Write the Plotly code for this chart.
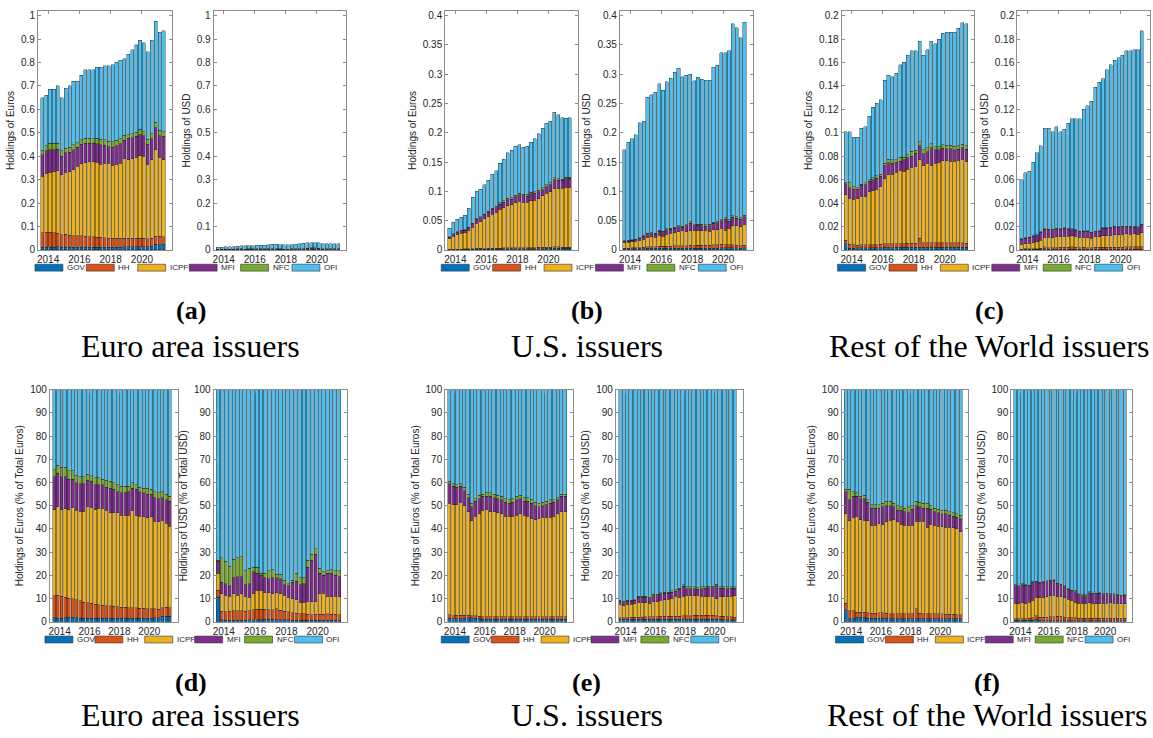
import numpy as np
import plotly.graph_objects as go

W, H = 1153, 738

quarters = ["2013Q3", "2013Q4",
            "2014Q1", "2014Q2", "2014Q3", "2014Q4",
            "2015Q1", "2015Q2", "2015Q3", "2015Q4",
            "2016Q1", "2016Q2", "2016Q3", "2016Q4",
            "2017Q1", "2017Q2", "2017Q3", "2017Q4",
            "2018Q1", "2018Q2", "2018Q3", "2018Q4",
            "2019Q1", "2019Q2", "2019Q3", "2019Q4",
            "2020Q1", "2020Q2", "2020Q3", "2020Q4",
            "2021Q1", "2021Q2"]
tick_years = [2014, 2016, 2018, 2020]
sectors = ["GOV", "HH", "ICPF", "MFI", "NFC", "OFI"]
colors = ["#0072BD", "#D95319", "#EDB120", "#7E2F8E", "#77AC30", "#4DBEEE"]

# ---------- Euro area issuers, Euro holdings ----------
ea_eur_total = [0.65, 0.66, 0.685, 0.685, 0.70, 0.65, 0.69, 0.70, 0.72, 0.72, 0.745, 0.77, 0.77, 0.77, 0.78, 0.78,
                0.785, 0.785, 0.79, 0.80, 0.81, 0.815, 0.835, 0.855, 0.875, 0.895, 0.885, 0.845, 0.895, 0.975, 0.93, 0.935]
ea_eur_gov = [1.8, 1.6, 1.6, 1.7, 1.9, 1.9, 1.7, 1.6, 1.6, 1.6, 1.5, 1.5, 1.5, 1.5, 1.5, 1.5,
              1.5, 1.5, 1.5, 1.5, 1.5, 1.6, 1.6, 1.6, 1.6, 1.6, 1.6, 1.7, 1.7, 2.4, 2.5, 2.5]
ea_eur_hh = [11.2, 11.4, 11.0, 10.6, 10.1, 10.0, 9.6, 9.0, 8.5, 8.3, 8.1, 7.6, 7.4, 7.2, 7.0, 6.9,
             6.7, 6.5, 6.3, 6.2, 6.1, 6.1, 6.0, 5.9, 5.8, 5.6, 5.7, 5.7, 5.5, 6.0, 6.3, 6.1]
ea_eur_icpf = [48.3, 49.6, 48.3, 48.6, 48.3, 49.3, 48.0, 47.6, 47.6, 49.6, 49.3, 48.3, 48.9, 49.0, 48.0, 47.0,
               47.0, 47.0, 45.8, 45.8, 45.8, 47.8, 46.0, 45.5, 45.3, 44.8, 45.2, 43.3, 43.0, 43.8, 42.5, 41.2]
ea_eur_mfi = [62.5, 64.0, 62.5, 62.5, 61.5, 61.5, 60.0, 59.5, 59.5, 61.0, 60.5, 59.0, 59.0, 59.0, 58.0, 57.5,
              57.0, 56.0, 55.5, 55.5, 56.0, 57.5, 57.0, 56.0, 55.5, 55.0, 55.0, 53.5, 53.0, 53.5, 52.5, 52.0]
ea_eur_nfc = [65.5, 67.5, 66.5, 66.5, 65.0, 65.0, 63.0, 62.5, 62.5, 63.5, 63.0, 62.0, 62.0, 61.5, 61.0, 60.5,
              60.0, 59.0, 58.5, 58.5, 58.5, 60.0, 59.0, 58.0, 57.5, 57.5, 57.0, 56.0, 55.5, 56.0, 55.0, 54.0]

# ---------- Euro area issuers, USD holdings ----------
ea_usd_total = [0.012, 0.012, 0.013, 0.013, 0.014, 0.015, 0.017, 0.018, 0.019, 0.019, 0.020, 0.020, 0.021, 0.022, 0.024, 0.025,
                0.022, 0.022, 0.022, 0.023, 0.024, 0.027, 0.029, 0.030, 0.030, 0.030, 0.030, 0.027, 0.026, 0.027, 0.027, 0.027]
ea_usd_gov = [10.5, 0.8, 0.7, 0.7, 0.7, 0.7, 0.7, 0.7, 0.8, 0.8, 0.9, 0.9, 1.0, 1.0, 1.0, 0.9,
              0.8, 0.8, 0.8, 0.7, 0.6, 0.6, 0.6, 0.6, 0.6, 0.7, 0.7, 0.7, 0.7, 0.7, 0.7, 0.7]
ea_usd_hh = [13.5, 4.5, 4.3, 4.6, 4.8, 4.8, 4.7, 4.6, 4.8, 5.3, 5.5, 5.5, 5.4, 5.3, 5.3, 5.7,
             5.0, 4.6, 4.3, 4.0, 3.7, 3.5, 3.5, 3.2, 3.0, 3.2, 3.3, 3.3, 3.4, 3.3, 3.2, 3.0]
ea_usd_icpf = [21.0, 12.0, 11.5, 11.0, 12.0, 11.5, 12.0, 11.0, 10.5, 12.0, 13.6, 13.6, 12.5, 12.5, 12.0, 12.6,
               12.0, 11.5, 10.5, 10.0, 9.5, 8.5, 8.5, 8.7, 8.7, 8.6, 12.0, 12.3, 11.0, 10.7, 11.0, 10.7]
ea_usd_mfi = [26.0, 17.0, 16.5, 15.5, 19.0, 19.5, 19.5, 16.0, 16.5, 21.5, 21.0, 20.0, 19.0, 18.5, 19.0, 19.0,
              18.5, 16.0, 15.5, 17.0, 17.5, 16.0, 16.5, 23.5, 26.5, 29.0, 21.0, 20.0, 21.0, 21.0, 20.0, 19.5]
ea_usd_nfc = [26.5, 27.5, 26.0, 24.0, 27.0, 27.5, 28.0, 22.0, 23.0, 23.5, 23.5, 21.0, 21.0, 22.0, 22.5, 20.5,
              20.5, 18.0, 16.5, 18.0, 21.0, 19.0, 19.0, 26.5, 29.0, 31.5, 23.0, 21.5, 22.0, 22.5, 22.0, 22.0]

# ---------- U.S. issuers, Euro holdings ----------
us_eur_total = [0.037, 0.047, 0.052, 0.056, 0.059, 0.071, 0.090, 0.100, 0.104, 0.111, 0.119, 0.129, 0.135, 0.148, 0.155, 0.166,
                0.170, 0.177, 0.180, 0.175, 0.177, 0.184, 0.190, 0.198, 0.208, 0.216, 0.220, 0.235, 0.231, 0.226, 0.225, 0.226]
us_eur_gov = [1.5, 1.3, 1.4, 1.4, 1.6, 1.7, 1.7, 1.6, 1.5, 1.2, 1.2, 1.2, 1.2, 1.2, 1.2, 1.2,
              1.2, 1.2, 1.2, 1.2, 1.2, 1.2, 1.2, 1.2, 1.2, 1.2, 1.2, 1.2, 1.2, 1.2, 1.2, 1.2]
us_eur_hh = [3.0, 2.7, 2.8, 2.8, 2.8, 2.8, 2.7, 2.6, 2.5, 2.2, 2.2, 2.2, 2.2, 2.2, 2.2, 2.2,
             2.2, 2.2, 2.2, 2.2, 2.2, 2.2, 2.2, 2.2, 2.2, 2.2, 2.2, 2.2, 2.2, 2.2, 2.2, 2.2]
us_eur_icpf = [51.0, 50.5, 50.5, 51.5, 50.0, 47.5, 43.5, 45.5, 46.5, 48.0, 48.5, 47.5, 47.5, 47.0, 46.5, 45.5,
               45.5, 45.5, 46.0, 46.5, 46.0, 45.5, 44.5, 44.0, 44.5, 45.0, 45.0, 45.0, 45.5, 46.5, 47.5, 47.5]
us_eur_mfi = [59.5, 58.5, 58.0, 58.5, 56.5, 53.5, 49.5, 52.0, 53.0, 54.0, 54.0, 54.0, 53.5, 53.0, 52.5, 51.5,
              51.0, 51.5, 52.5, 53.0, 52.0, 52.0, 51.0, 50.0, 49.5, 50.0, 50.5, 51.0, 51.5, 52.5, 54.0, 54.0]
us_eur_nfc = [60.5, 59.5, 59.0, 59.5, 58.0, 55.0, 51.0, 53.0, 54.5, 55.0, 55.5, 55.5, 55.0, 54.5, 54.0, 53.0,
              52.5, 53.0, 54.0, 54.5, 53.5, 53.5, 52.5, 51.5, 51.0, 51.5, 52.0, 52.5, 52.5, 53.5, 55.0, 55.0]

# ---------- U.S. issuers, USD holdings ----------
us_usd_total = [0.171, 0.184, 0.190, 0.197, 0.217, 0.220, 0.261, 0.265, 0.269, 0.284, 0.273, 0.287, 0.293, 0.303, 0.310, 0.296,
                0.298, 0.300, 0.289, 0.295, 0.291, 0.290, 0.290, 0.312, 0.315, 0.337, 0.337, 0.340, 0.386, 0.379, 0.362, 0.389]
us_usd_gov = [1.2, 1.2, 1.2, 1.2, 1.2, 1.1, 1.1, 1.1, 1.0, 1.0, 1.0, 1.0, 1.0, 1.0, 1.0, 1.0,
              1.0, 1.0, 1.0, 1.0, 1.0, 1.0, 1.0, 1.0, 1.0, 1.0, 1.0, 1.0, 0.9, 0.9, 0.9, 0.9]
us_usd_hh = [1.8, 1.8, 1.8, 1.9, 1.9, 2.0, 2.0, 2.1, 2.1, 2.2, 2.2, 2.3, 2.3, 2.3, 2.4, 2.4,
             2.5, 2.6, 2.6, 2.7, 2.8, 2.8, 2.9, 2.9, 2.9, 2.9, 2.7, 2.5, 2.4, 2.2, 2.1, 2.0]
us_usd_icpf = [7.5, 7.0, 7.5, 7.6, 7.7, 8.5, 8.3, 8.5, 8.0, 8.7, 8.6, 9.2, 9.6, 9.8, 10.0, 11.0,
               10.5, 11.0, 11.5, 11.5, 11.2, 11.5, 11.0, 11.0, 11.0, 11.0, 10.0, 10.8, 10.8, 10.8, 11.0, 11.2]
us_usd_mfi = [8.8, 8.3, 8.8, 8.8, 9.2, 10.5, 10.5, 10.5, 10.0, 11.3, 11.3, 12.0, 12.2, 12.2, 12.8, 13.2,
              14.0, 15.3, 14.3, 14.3, 14.3, 14.0, 14.3, 14.5, 14.7, 14.7, 15.5, 14.5, 14.5, 14.3, 14.5, 14.5]
us_usd_nfc = [9.3, 8.8, 9.3, 9.3, 9.6, 11.0, 11.0, 11.0, 10.5, 11.8, 11.8, 12.5, 12.7, 12.7, 13.3, 13.8,
              14.5, 16.0, 15.0, 15.0, 15.0, 14.7, 15.0, 15.2, 15.4, 15.4, 16.2, 15.2, 15.2, 15.0, 15.2, 15.2]

# ---------- Rest of the World issuers, Euro holdings ----------
row_eur_total = [0.101, 0.101, 0.096, 0.096, 0.104, 0.105, 0.114, 0.122, 0.125, 0.128, 0.145, 0.149, 0.148, 0.151, 0.158, 0.160,
                 0.166, 0.170, 0.170, 0.178, 0.166, 0.171, 0.178, 0.176, 0.180, 0.185, 0.186, 0.186, 0.186, 0.189, 0.194, 0.193]
row_eur_gov = [5.2, 1.4, 1.4, 1.9, 1.9, 1.9, 1.6, 1.5, 1.5, 1.5, 1.5, 1.5, 1.4, 1.4, 1.4, 1.4,
               1.3, 1.3, 1.3, 1.4, 1.4, 1.4, 1.4, 1.4, 1.3, 1.3, 1.3, 1.3, 1.3, 1.3, 1.3, 1.3]
row_eur_hh = [8.0, 4.7, 4.7, 4.2, 4.2, 4.2, 3.8, 3.7, 3.7, 3.8, 3.8, 3.7, 3.5, 3.5, 3.4, 3.4,
              3.4, 3.4, 3.4, 5.7, 3.6, 3.5, 3.5, 3.5, 3.4, 3.4, 3.4, 3.3, 3.3, 3.2, 3.1, 3.0]
row_eur_icpf = [46.5, 43.5, 45.0, 45.5, 44.0, 43.8, 43.5, 41.5, 41.5, 42.3, 42.0, 43.0, 43.8, 44.0, 43.0, 42.0,
                41.5, 41.5, 41.7, 43.3, 43.3, 43.3, 40.7, 42.0, 41.7, 41.2, 41.0, 40.8, 40.8, 40.5, 40.0, 39.0]
row_eur_mfi = [56.0, 52.5, 54.0, 54.0, 53.0, 53.0, 51.5, 49.0, 49.0, 49.0, 49.5, 50.0, 50.0, 49.5, 48.0, 48.0,
               47.5, 47.0, 48.5, 50.0, 49.5, 49.0, 49.0, 48.5, 47.5, 47.0, 46.5, 46.5, 46.0, 45.5, 45.0, 44.5]
row_eur_nfc = [57.0, 57.0, 56.0, 55.5, 54.0, 54.5, 52.5, 50.5, 50.5, 50.5, 51.0, 52.0, 52.0, 51.0, 50.0, 49.5,
               49.0, 49.5, 50.0, 52.0, 51.5, 51.0, 51.0, 50.0, 49.0, 48.5, 48.0, 48.0, 47.5, 47.0, 46.5, 46.0]

# ---------- Rest of the World issuers, USD holdings ----------
row_usd_total = [0.060, 0.066, 0.067, 0.075, 0.083, 0.089, 0.104, 0.104, 0.101, 0.105, 0.101, 0.103, 0.108, 0.112, 0.112, 0.112,
                 0.120, 0.123, 0.127, 0.139, 0.143, 0.146, 0.154, 0.158, 0.162, 0.164, 0.166, 0.170, 0.170, 0.171, 0.171, 0.187]
row_usd_gov = [0.6, 0.6, 0.6, 0.6, 0.6, 0.6, 1.2, 0.6, 0.4, 0.4, 0.4, 0.4, 0.4, 0.4, 0.4, 0.4,
               0.4, 0.4, 0.4, 0.4, 0.4, 0.4, 0.4, 0.4, 0.4, 0.4, 0.4, 0.4, 0.4, 0.4, 0.4, 0.4]
row_usd_hh = [1.3, 1.3, 1.4, 1.4, 1.5, 1.7, 2.6, 1.9, 1.9, 2.0, 2.1, 2.2, 2.3, 2.3, 1.9, 1.8,
              1.8, 1.7, 1.6, 1.6, 1.6, 1.5, 1.5, 1.5, 1.5, 1.5, 1.5, 1.5, 1.5, 1.5, 1.5, 1.5]
row_usd_icpf = [8.0, 7.8, 8.3, 8.0, 8.5, 9.3, 10.5, 10.3, 10.5, 10.8, 11.2, 11.5, 11.0, 10.8, 10.3, 9.8,
                9.2, 8.5, 8.0, 8.0, 8.0, 8.2, 8.0, 7.8, 8.0, 8.0, 8.0, 8.2, 8.0, 8.0, 7.8, 7.8]
row_usd_mfi = [15.5, 15.0, 16.0, 15.8, 15.5, 17.0, 17.2, 16.7, 17.0, 17.3, 17.6, 17.8, 16.3, 16.0, 15.2, 14.0,
               13.3, 13.0, 11.7, 11.3, 11.3, 12.6, 12.1, 12.1, 12.3, 11.7, 12.0, 11.7, 11.7, 11.4, 11.2, 11.4]
row_usd_nfc = [16.0, 15.5, 16.3, 16.0, 15.8, 17.3, 17.5, 17.0, 17.3, 17.7, 18.0, 18.2, 16.7, 16.2, 15.5, 14.3,
               13.7, 13.3, 12.0, 11.6, 11.6, 12.9, 12.4, 12.4, 12.6, 12.0, 12.3, 12.0, 12.0, 11.7, 11.5, 11.7]

captions = [("(a)", "Euro area issuers"), ("(b)", "U.S. issuers"), ("(c)", "Rest of the World issuers"),
            ("(d)", "Euro area issuers"), ("(e)", "U.S. issuers"), ("(f)", "Rest of the World issuers")]


def quarter_pos(q):
    return int(q[:4]) + (int(q[5]) - 1) / 4.0 + 0.125


xpos = np.array([quarter_pos(q) for q in quarters])
step = 0.25
xrange = [xpos[0] - 1.1 * step, xpos[-1] + 2.1 * step]


def shares(gov, hh, icpf, mfi, nfc):
    lv = np.vstack([np.zeros(len(gov)), gov, hh, icpf, mfi, nfc, np.full(len(gov), 100.0)])
    lv = np.maximum.accumulate(lv, axis=0)
    return np.diff(lv, axis=0)


combos = {
    "ea_eur": (ea_eur_total, shares(ea_eur_gov, ea_eur_hh, ea_eur_icpf, ea_eur_mfi, ea_eur_nfc)),
    "ea_usd": (ea_usd_total, shares(ea_usd_gov, ea_usd_hh, ea_usd_icpf, ea_usd_mfi, ea_usd_nfc)),
    "us_eur": (us_eur_total, shares(us_eur_gov, us_eur_hh, us_eur_icpf, us_eur_mfi, us_eur_nfc)),
    "us_usd": (us_usd_total, shares(us_usd_gov, us_usd_hh, us_usd_icpf, us_usd_mfi, us_usd_nfc)),
    "row_eur": (row_eur_total, shares(row_eur_gov, row_eur_hh, row_eur_icpf, row_eur_mfi, row_eur_nfc)),
    "row_usd": (row_usd_total, shares(row_usd_gov, row_usd_hh, row_usd_icpf, row_usd_mfi, row_usd_nfc)),
}

TOP = (5, 248)
BOT = (390, 626)
subplots = [
    dict(combo="ea_eur", kind="lvl", x=(36, 170), y=TOP, ymax=1.0, dtick=0.1, title="Holdings of Euros"),
    dict(combo="ea_usd", kind="lvl", x=(212, 345), y=TOP, ymax=1.0, dtick=0.1, title="Holdings of USD"),
    dict(combo="us_eur", kind="lvl", x=(444, 577), y=TOP, ymax=0.4, dtick=0.05, title="Holdings of Euros"),
    dict(combo="us_usd", kind="lvl", x=(619, 752), y=TOP, ymax=0.4, dtick=0.05, title="Holdings of USD"),
    dict(combo="row_eur", kind="lvl", x=(841, 974), y=TOP, ymax=0.2, dtick=0.02, title="Holdings of Euros"),
    dict(combo="row_usd", kind="lvl", x=(1017, 1150), y=TOP, ymax=0.2, dtick=0.02, title="Holdings of USD"),
    dict(combo="ea_eur", kind="pct", x=(48, 176), y=BOT, ymax=100, dtick=10, title="Holdings of Euros (% of Total Euros)"),
    dict(combo="ea_usd", kind="pct", x=(212, 346), y=BOT, ymax=100, dtick=10, title="Holdings of USD (% of Total USD)"),
    dict(combo="us_eur", kind="pct", x=(444, 572), y=BOT, ymax=100, dtick=10, title="Holdings of Euros (% of Total Euros)"),
    dict(combo="us_usd", kind="pct", x=(615, 742), y=BOT, ymax=100, dtick=10, title="Holdings of USD (% of Total USD)"),
    dict(combo="row_eur", kind="pct", x=(841, 968), y=BOT, ymax=100, dtick=10, title="Holdings of Euros (% of Total Euros)"),
    dict(combo="row_usd", kind="pct", x=(1011, 1132), y=BOT, ymax=100, dtick=10, title="Holdings of USD (% of Total USD)"),
]

AXC = "#8c8c8c"
TXC = "#262626"
FONT = "Liberation Sans, Arial, sans-serif"

fig = go.Figure()
layout = {}
for k, sp in enumerate(subplots):
    n = k + 1
    sfx = "" if n == 1 else str(n)
    total, sh = combos[sp["combo"]]
    total = np.asarray(total)
    for s, (name, col) in enumerate(zip(sectors, colors)):
        vals = sh[s] if sp["kind"] == "pct" else sh[s] * total / 100.0
        fig.add_trace(go.Bar(
            x=xpos, y=vals, name=name, showlegend=False,
            marker=dict(color=col, line=dict(color="rgba(30,30,30,0.85)", width=0.5)),
            xaxis="x" + sfx, yaxis="y" + sfx))
    ymax = sp["ymax"]
    yr = [0, ymax * 1.02] if sp["kind"] == "lvl" else [0, 100]
    layout["xaxis" + sfx] = dict(
        domain=[sp["x"][0] / W, sp["x"][1] / W], anchor="y" + sfx, range=xrange,
        tickvals=tick_years, ticktext=[str(t) for t in tick_years],
        ticks="inside", ticklen=3, tickcolor=AXC, mirror="ticks", showline=True, linecolor=AXC, linewidth=1,
        showgrid=False, zeroline=False, tickfont=dict(family=FONT, size=10, color=TXC))
    layout["yaxis" + sfx] = dict(
        domain=[1 - sp["y"][1] / H, 1 - sp["y"][0] / H], anchor="x" + sfx, range=yr,
        tick0=0, dtick=sp["dtick"],
        ticks="inside", ticklen=3, tickcolor=AXC, mirror="ticks", showline=True, linecolor=AXC, linewidth=1,
        showgrid=False, zeroline=False, tickfont=dict(family=FONT, size=10, color=TXC),
        title=dict(text=sp["title"], font=dict(family=FONT, size=10, color=TXC), standoff=4))

shapes = []
annotations = []
legend_rows = [
    (266, [33, 440, 837], 51.5),
    (644, [43, 440, 835], 50.0),
]
for yc, starts, stepx in legend_rows:
    for x0 in starts:
        for i, (name, col) in enumerate(zip(sectors, colors)):
            sx = x0 + i * stepx
            shapes.append(dict(type="rect", xref="paper", yref="paper",
                               x0=sx / W, x1=(sx + 28) / W, y0=1 - (yc + 3.5) / H, y1=1 - (yc - 3.5) / H,
                               fillcolor=col, line=dict(color="#333333", width=0.6)))
            annotations.append(dict(x=(sx + 30) / W, y=1 - yc / H, xref="paper", yref="paper",
                                    text=name, showarrow=False, xanchor="left", yanchor="middle",
                                    font=dict(family=FONT, size=8, color=TXC)))

cap_x = [189, 586, 989, 189, 586, 987]
cap_y = [(310, 346), (310, 346), (310, 346), (688, 721), (688, 721), (688, 721)]
SERIF = "Liberation Serif, Times New Roman, serif"
for (lab, txt), cx, (ly, ty) in zip(captions, cap_x, cap_y):
    annotations.append(dict(x=cx / W, y=1 - ly / H, xref="paper", yref="paper", text="<b>" + lab + "</b>",
                            showarrow=False, xanchor="center", yanchor="middle",
                            font=dict(family=SERIF, size=26, color="#000000")))
    annotations.append(dict(x=cx / W, y=1 - ty / H, xref="paper", yref="paper", text=txt,
                            showarrow=False, xanchor="center", yanchor="middle",
                            font=dict(family=SERIF, size=32, color="#000000")))

fig.update_layout(
    width=W, height=H, margin=dict(l=0, r=0, t=0, b=0),
    paper_bgcolor="white", plot_bgcolor="white",
    barmode="stack", bargap=0.2, showlegend=False,
    shapes=shapes, annotations=annotations, **layout)

fig.write_html("out.html", config={"displayModeBar": False},
               post_script="document.body.style.margin='0';document.body.style.overflow='hidden';")
